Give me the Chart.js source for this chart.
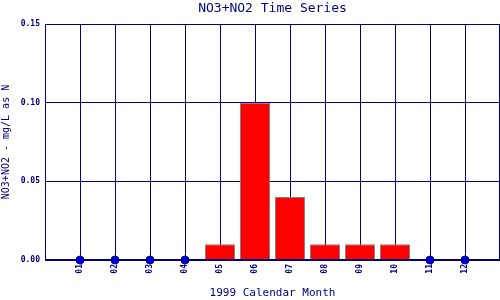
<!DOCTYPE html>
<html>
<head>
<meta charset="utf-8">
<script src="https://cdn.jsdelivr.net/npm/chart.js@4"></script>
<style>
  html, body { margin: 0; padding: 0; background: #fff; }
  #wrap { width: 500px; height: 300px; }
</style>
</head>
<body>
<div id="wrap"><canvas id="myChart"></canvas></div>
<script>
// --- données ---
const months = ['01', '02', '03', '04', '05', '06', '07', '08', '09', '10', '11', '12'];
const values = [0, 0, 0, 0, 0.01, 0.10, 0.04, 0.01, 0.01, 0.01, 0, 0];
const yTicks = [0, 0.05, 0.10, 0.15];

const navy = '#000080';
const mono = '"DejaVu Sans Mono", "Liberation Mono", monospace';

// barres pour les valeurs mesurées, points bleus pour les zéros
const barData = [];
const dotData = [];
months.forEach((m, i) => {
    if (values[i] > 0) barData.push({ x: i + 1, y: values[i] });
    else dotData.push({ x: i + 1, y: values[i] });
});

const ctx = document.getElementById('myChart');
new Chart(ctx, {
    type: 'bar',
    data: {
        datasets: [
            {
                type: 'scatter',
                data: dotData,
                backgroundColor: '#0000cc',
                borderColor: '#0000cc',
                borderWidth: 1,
                pointRadius: 4,
                clip: false,
                order: 0
            },
            {
                data: barData,
                backgroundColor: '#ff0000',
                borderColor: '#808080',
                borderWidth: 1,
                barPercentage: 0.86,
                categoryPercentage: 1,
                order: 1
            }
        ]
    },
    options: {
        responsive: true,
        maintainAspectRatio: false,
        animation: false,
        layout: { padding: 0, autoPadding: false },
        plugins: {
            legend: { display: false },
            tooltip: { enabled: false },
            title: {
                display: true,
                text: 'NO3+NO2 Time Series',
                color: navy,
                fullSize: false,
                font: { family: mono, size: 13, weight: 'normal', lineHeight: 1.2 },
                padding: { top: 1, bottom: 7.4 }
            }
        },
        scales: {
            x: {
                type: 'linear',
                min: 0,
                max: 13,
                offset: false,
                afterFit: s => { s.height = 40; s.paddingLeft = 0; s.paddingRight = 0; },
                ticks: {
                    stepSize: 1,
                    autoSkip: false,
                    minRotation: 90,
                    maxRotation: 90,
                    padding: 4,
                    color: navy,
                    font: { family: mono, size: 8, weight: 'bold' },
                    callback: v => (v >= 1 && v <= 12 ? months[v - 1] : '')
                },
                grid: { color: navy, lineWidth: 1, drawTicks: false, offset: false },
                border: { color: navy, width: 1 },
                title: {
                    display: true,
                    text: '1999 Calendar Month',
                    color: navy,
                    font: { family: mono, size: 11 },
                    padding: { top: 0, bottom: 0 }
                }
            },
            y: {
                min: 0,
                max: 0.15,
                afterFit: s => { s.width = 45; s.paddingTop = 0; s.paddingBottom = 0; },
                afterBuildTicks: s => { s.ticks = yTicks.map(v => ({ value: v })); },
                ticks: {
                    padding: 5,
                    color: navy,
                    font: { family: mono, size: 8, weight: 'bold' },
                    callback: v => v.toFixed(2)
                },
                grid: { color: navy, lineWidth: 1, drawTicks: false },
                border: { color: navy, width: 1 },
                title: {
                    display: true,
                    text: 'NO3+NO2 - mg/L as N',
                    color: navy,
                    font: { family: mono, size: 10 },
                    padding: { top: 0, bottom: 0 }
                }
            }
        }
    },
    plugins: [{
        // cadre du graphique
        id: 'frame',
        afterDraw(chart) {
            const a = chart.chartArea;
            const c = chart.ctx;
            c.save();
            c.strokeStyle = navy;
            c.lineWidth = 1;
            c.strokeRect(a.left + 0.5, a.top + 0.5, a.right - a.left - 1, a.bottom - a.top - 1);
            c.restore();
        }
    }]
});
</script>
</body>
</html>
